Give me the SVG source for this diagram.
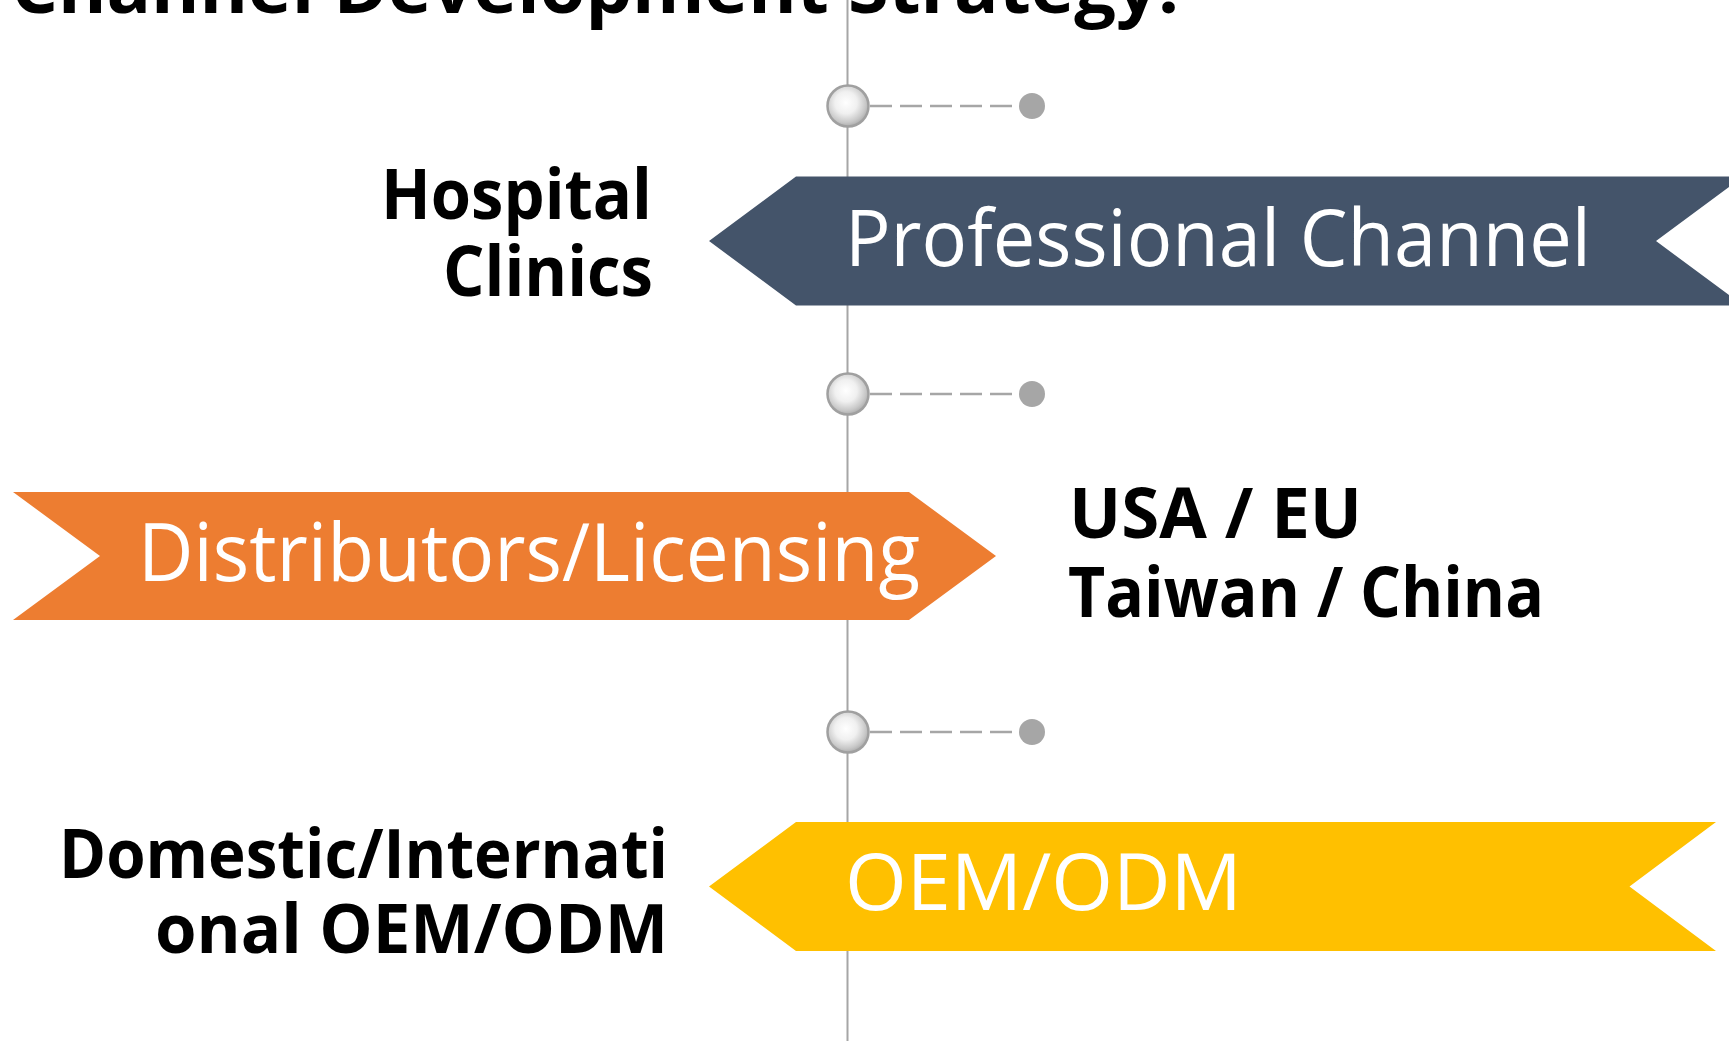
<svg xmlns="http://www.w3.org/2000/svg" width="1729" height="1041" viewBox="0 0 1729 1041">
  <defs>
    <radialGradient id="ball" cx="0.45" cy="0.42" r="0.6">
      <stop offset="0" stop-color="#FFFFFF"/>
      <stop offset="0.45" stop-color="#F0F0F0"/>
      <stop offset="0.8" stop-color="#C8C8C8"/>
      <stop offset="1" stop-color="#A8A8A8"/>
    </radialGradient>
    <style>
      .axis { stroke: #A6A6A6; stroke-width: 2; fill: none; }
      .dash { stroke: #A6A6A6; stroke-width: 2.5; stroke-dasharray: 22 8; fill: none; }
      .ball { fill: url(#ball); stroke: #A0A0A0; stroke-width: 2.5; }
      .dot { fill: #A6A6A6; }
      .lbl { font-family: "Open Sans", "Noto Sans", "DejaVu Sans", sans-serif; font-weight: 700; fill: #000000; }
      .ban { font-family: "Open Sans", "Noto Sans", "DejaVu Sans", sans-serif; font-weight: 400; fill: #FFFFFF; }
    </style>
  </defs>
  <rect width="1729" height="1041" fill="#FFFFFF"/>

  <g id="connectors">
    <line class="axis" x1="847.5" y1="0" x2="847.5" y2="1041"/>
    <line class="dash" x1="870" y1="106" x2="1025" y2="106"/>
    <line class="dash" x1="870" y1="394" x2="1025" y2="394"/>
    <line class="dash" x1="870" y1="732" x2="1025" y2="732"/>
  </g>

  <g id="title">
    <text class="lbl" x="11" y="13" font-size="72" textLength="1168" lengthAdjust="spacingAndGlyphs">Channel Development Strategy:</text>
  </g>

  <g id="marker-1">
    <circle class="ball" cx="848" cy="106" r="20.5"/>
    <circle class="dot" cx="1032" cy="106" r="13"/>
  </g>
  <g id="marker-2">
    <circle class="ball" cx="848" cy="394" r="20.5"/>
    <circle class="dot" cx="1032" cy="394" r="13"/>
  </g>
  <g id="marker-3">
    <circle class="ball" cx="848" cy="732" r="20.5"/>
    <circle class="dot" cx="1032" cy="732" r="13"/>
  </g>

  <g id="professional-channel">
    <polygon fill="#44546A" points="709,241 796,176.5 1743,176.5 1656,241 1743,305.5 796,305.5"/>
    <text class="ban" x="845" y="266" font-size="79" textLength="746" lengthAdjust="spacingAndGlyphs">Professional Channel</text>
  </g>
  <g id="hospital-clinics">
    <text class="lbl" x="381" y="219" font-size="70" textLength="271" lengthAdjust="spacingAndGlyphs">Hospital</text>
    <text class="lbl" x="443" y="296" font-size="70" textLength="210" lengthAdjust="spacingAndGlyphs">Clinics</text>
  </g>

  <g id="distributors-licensing">
    <polygon fill="#ED7D31" points="13,492 909,492 996,556 909,620 13,620 100,556"/>
    <text class="ban" x="138" y="581" font-size="80" textLength="782" lengthAdjust="spacingAndGlyphs">Distributors/Licensing</text>
  </g>
  <g id="regions">
    <text class="lbl" x="1069" y="538" font-size="70" textLength="293" lengthAdjust="spacingAndGlyphs">USA / EU</text>
    <text class="lbl" x="1068" y="617" font-size="70" textLength="476" lengthAdjust="spacingAndGlyphs">Taiwan / China</text>
  </g>

  <g id="oem-odm">
    <polygon fill="#FFC000" points="709,886.5 796,822 1716,822 1629.5,886.5 1716,951 796,951"/>
    <text class="ban" x="845" y="910" font-size="79" textLength="397" lengthAdjust="spacingAndGlyphs">OEM/ODM</text>
  </g>
  <g id="domestic-international">
    <text class="lbl" x="59" y="878" font-size="68" textLength="609" lengthAdjust="spacingAndGlyphs">Domestic/Internati</text>
    <text class="lbl" x="155" y="953" font-size="68" textLength="513" lengthAdjust="spacingAndGlyphs">onal OEM/ODM</text>
  </g>
</svg>
